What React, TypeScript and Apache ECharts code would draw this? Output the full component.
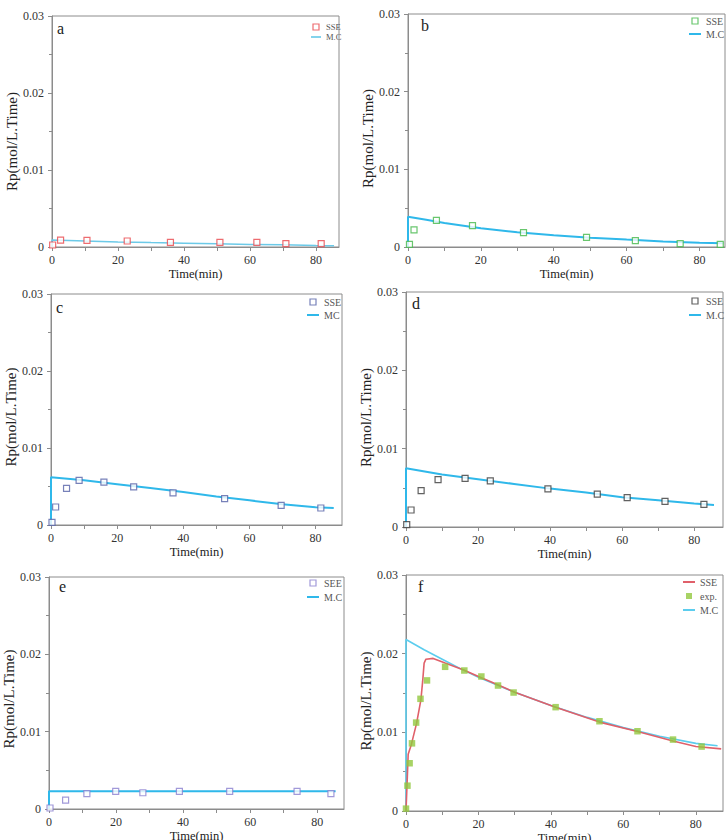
import React, { useEffect, useRef } from "react";
import * as echarts from "echarts";

const FONT = "Liberation Serif";
const AXIS = "#8c8c8c";
const TEXT = "#333";

// Legend glyphs: a short bar for fitted curves, a square for measured points
const LINE_ICON = "path://M0,0L12,0L12,2L0,2Z";
const SQUARE_ICON = "path://M0,0L6,0L6,6L0,6Z";

// Time axis labels and tick positions (min)
const timeLabels = [0, 20, 40, 60, 80];
const timeTicks = [0, 10, 20, 30, 40, 50, 60, 70, 80];

// Panel a
const aSseTime = [0.2, 2.6, 10.6, 22.8, 35.9, 50.9, 62.1, 70.9, 81.6];
const aSseRp = [0.00026, 0.0009, 0.00086, 0.00078, 0.0006, 0.0006, 0.0006, 0.00043, 0.00043];
const aMcTime = [0, 0, 10, 20, 30, 40, 50, 60, 70, 80, 85.5];
const aMcRp = [0, 0.00092, 0.00078, 0.00066, 0.00057, 0.00049, 0.00041, 0.00034, 0.00028, 0.0002, 0.00016];

// Panel b
const bSseTime = [0.4, 1.65, 7.8, 17.7, 31.7, 49.0, 62.4, 74.7, 85.7];
const bSseRp = [0.00034, 0.0022, 0.00343, 0.00275, 0.00185, 0.00124, 0.00082, 0.00043, 0.00034];
const bMcTime = [0, 0, 5, 10, 20, 30, 40, 50, 60, 70, 80, 86.5];
const bMcRp = [0, 0.0039, 0.0035, 0.0031, 0.0024, 0.0019, 0.0015, 0.0012, 0.00095, 0.00072, 0.00055, 0.00048];

// Panel c
const cSseTime = [0.3, 1.4, 4.7, 8.5, 16.0, 25.0, 36.9, 52.5, 69.6, 81.6];
const cSseRp = [0.00035, 0.00234, 0.00476, 0.0058, 0.00558, 0.00494, 0.00416, 0.00342, 0.00255, 0.00221];
const cMcTime = [0, 0, 10, 20, 30, 40, 50, 60, 70, 80, 85.5];
const cMcRp = [0, 0.0062, 0.0058, 0.0053, 0.0048, 0.0043, 0.0037, 0.0032, 0.0027, 0.0023, 0.0022];

// Panel d
const dSseTime = [0.2, 1.4, 4.2, 8.9, 16.4, 23.4, 39.4, 53.1, 61.4, 71.9, 82.7];
const dSseRp = [0.0003, 0.00217, 0.00465, 0.00605, 0.0062, 0.0059, 0.00486, 0.0042, 0.00375, 0.00328, 0.0029];
const dMcTime = [0, 0, 10, 20, 30, 40, 50, 60, 70, 80, 85.5];
const dMcRp = [0, 0.0075, 0.0067, 0.0061, 0.0055, 0.0049, 0.0044, 0.0038, 0.0034, 0.003, 0.0028];

// Panel e
const eSeeTime = [0.3, 4.95, 11.3, 19.9, 28.0, 38.9, 53.9, 74.0, 84.1];
const eSeeRp = [0.00013, 0.00116, 0.002, 0.00228, 0.0021, 0.00228, 0.00228, 0.00228, 0.002];
const eMcTime = [0, 0, 85.5];
const eMcRp = [0, 0.0023, 0.0023];

// Panel f
const fExpTime = [0, 0.4, 1.0, 1.65, 2.8, 4.0, 5.8, 10.8, 16.1, 20.8, 25.4, 29.7, 41.3, 53.4, 63.9, 73.7, 81.6];
const fExpRp = [0.0003, 0.00322, 0.00607, 0.0086, 0.01124, 0.01426, 0.0166, 0.01833, 0.01786, 0.0171, 0.01595, 0.01506, 0.0132, 0.01141, 0.01014, 0.00908, 0.00819];
const fSseTime = [0, 0.3, 0.6, 1.5, 2.9, 4.1, 4.6, 5.0, 5.5, 7.5, 10.8, 16.1, 20, 25, 30, 41.3, 53.4, 63.9, 73.7, 80, 87];
const fSseRp = [0, 0.0035, 0.0072, 0.0085, 0.0111, 0.0141, 0.0165, 0.0188, 0.0193, 0.0194, 0.0188, 0.0179, 0.0171, 0.0161, 0.0151, 0.0132, 0.0113, 0.0101, 0.0089, 0.0082, 0.0079];
const fMcTime = [0, 0, 5, 10, 15, 20, 30, 40, 50, 60, 70, 80, 86];
const fMcRp = [0, 0.0218, 0.0205, 0.0193, 0.0181, 0.017, 0.0151, 0.0134, 0.0119, 0.0106, 0.0095, 0.0086, 0.0083];

type SeriesDef = {
  kind: "line" | "hollow" | "filled";
  name: string;
  x: number[];
  y: number[];
  color: string;
  width?: number;
};

type Panel = {
  key: string;
  grid: { left: number; top: number; width: number; height: number };
  xMax: number;
  label: { x: number; y: number };
  legend: { left: number; top: number; gap: number; fontSize: number; itemWidth: number };
  yNamePad: number;
  order: string[];
  series: SeriesDef[];
};

const CYAN = "#2fb8ea";

const panels: Panel[] = [
  {
    key: "a",
    grid: { left: 52, top: 16, width: 287, height: 231 },
    xMax: 87,
    label: { x: 57, y: 28.7 },
    legend: { left: 311, top: 22, gap: 0, fontSize: 8.5, itemWidth: 10 },
    yNamePad: 20,
    order: ["SSE", "M.C"],
    series: [
      { kind: "line", name: "M.C", x: aMcTime, y: aMcRp, color: "#6ccae8", width: 1.5 },
      { kind: "hollow", name: "SSE", x: aSseTime, y: aSseRp, color: "#e8474c" },
    ],
  },
  {
    key: "b",
    grid: { left: 408, top: 14, width: 317, height: 233 },
    xMax: 87,
    label: { x: 421, y: 25.7 },
    legend: { left: 689, top: 16, gap: 3, fontSize: 10, itemWidth: 12 },
    yNamePad: 16,
    order: ["SSE", "M.C"],
    series: [
      { kind: "line", name: "M.C", x: bMcTime, y: bMcRp, color: CYAN, width: 2 },
      { kind: "hollow", name: "SSE", x: bSseTime, y: bSseRp, color: "#44b84a" },
    ],
  },
  {
    key: "c",
    grid: { left: 51, top: 294, width: 291, height: 231 },
    xMax: 88,
    label: { x: 56, y: 307.7 },
    legend: { left: 307, top: 297, gap: 3, fontSize: 10, itemWidth: 12 },
    yNamePad: 15,
    order: ["SSE", "MC"],
    series: [
      { kind: "line", name: "MC", x: cMcTime, y: cMcRp, color: CYAN, width: 2 },
      { kind: "hollow", name: "SSE", x: cSseTime, y: cSseRp, color: "#5562a8" },
    ],
  },
  {
    key: "d",
    grid: { left: 406, top: 292, width: 317, height: 235 },
    xMax: 88,
    label: { x: 412, y: 303.7 },
    legend: { left: 689, top: 296, gap: 4, fontSize: 10, itemWidth: 12 },
    yNamePad: 16,
    order: ["SSE", "M.C"],
    series: [
      { kind: "line", name: "M.C", x: dMcTime, y: dMcRp, color: CYAN, width: 2 },
      { kind: "hollow", name: "SSE", x: dSseTime, y: dSseRp, color: "#3a3a3a" },
    ],
  },
  {
    key: "e",
    grid: { left: 49, top: 577, width: 295, height: 232 },
    xMax: 88,
    label: { x: 59, y: 586.4 },
    legend: { left: 307, top: 578, gap: 4, fontSize: 10, itemWidth: 12 },
    yNamePad: 12,
    order: ["SEE", "M.C"],
    series: [
      { kind: "line", name: "M.C", x: eMcTime, y: eMcRp, color: CYAN, width: 2 },
      { kind: "hollow", name: "SEE", x: eSeeTime, y: eSeeRp, color: "#8a7fcf" },
    ],
  },
  {
    key: "f",
    grid: { left: 406, top: 575, width: 317, height: 236 },
    xMax: 87.5,
    label: { x: 418, y: 586.7 },
    legend: { left: 683, top: 577, gap: 4, fontSize: 10, itemWidth: 12 },
    yNamePad: 16,
    order: ["SSE", "exp.", "M.C"],
    series: [
      { kind: "line", name: "M.C", x: fMcTime, y: fMcRp, color: "#5ccdee", width: 1.6 },
      { kind: "line", name: "SSE", x: fSseTime, y: fSseRp, color: "#e0606a", width: 1.6 },
      { kind: "filled", name: "exp.", x: fExpTime, y: fExpRp, color: "#92c83e" },
    ],
  },
];

const zip = (xs: number[], ys: number[]) => xs.map((x, i) => [x, ys[i]]);

function buildOption() {
  const grid: any[] = [];
  const xAxis: any[] = [];
  const yAxis: any[] = [];
  const series: any[] = [];
  const legend: any[] = [];
  const graphic: any[] = [];

  panels.forEach((p, i) => {
    grid.push({
      ...p.grid,
      show: true,
      borderColor: AXIS,
      borderWidth: 1,
      backgroundColor: "transparent",
      containLabel: false,
      outerBoundsMode: "none",
    });

    xAxis.push({
      gridIndex: i,
      type: "value",
      min: 0,
      max: p.xMax,
      axisLine: { show: true, onZero: false, lineStyle: { color: AXIS, width: 1 } },
      axisTick: { show: true, length: 4, customValues: timeTicks, lineStyle: { color: AXIS } },
      axisLabel: {
        customValues: timeLabels,
        margin: 7,
        fontSize: 12,
        color: TEXT,
        fontFamily: FONT,
      },
      splitLine: { show: false },
      name: "Time(min)",
      nameLocation: "middle",
      nameGap: 20,
      nameMoveOverlap: false,
      nameTextStyle: { fontSize: 12.5, color: "#222", fontFamily: FONT },
    });

    yAxis.push({
      gridIndex: i,
      type: "value",
      min: 0,
      max: 0.03,
      interval: 0.01,
      axisLine: { show: true, onZero: false, lineStyle: { color: AXIS, width: 1 } },
      axisTick: { show: true, length: 4, lineStyle: { color: AXIS } },
      minorTick: { show: true, splitNumber: 2, length: 3, lineStyle: { color: AXIS } },
      axisLabel: { margin: 8, fontSize: 12, color: TEXT, fontFamily: FONT },
      splitLine: { show: false },
      minorSplitLine: { show: false },
      name: "Rp(mol/L.Time)",
      nameLocation: "middle",
      nameGap: 33,
      nameMoveOverlap: false,
      nameTextStyle: {
        fontSize: 15,
        color: "#222",
        fontFamily: FONT,
        padding: [0, p.yNamePad, 0, 0],
      },
    });

    const kindOf: Record<string, string> = {};
    p.series.forEach((s) => {
      const name = `${s.name}|${p.key}`;
      kindOf[name] = s.kind;
      if (s.kind === "line") {
        series.push({
          type: "line",
          name,
          xAxisIndex: i,
          yAxisIndex: i,
          data: zip(s.x, s.y),
          symbol: "none",
          showSymbol: false,
          lineStyle: { color: s.color, width: s.width },
          itemStyle: { color: s.color },
          z: 2,
          silent: true,
        });
      } else {
        series.push({
          type: "scatter",
          name,
          xAxisIndex: i,
          yAxisIndex: i,
          data: zip(s.x, s.y),
          symbol: "rect",
          symbolSize: s.kind === "hollow" ? 6 : 6.5,
          itemStyle:
            s.kind === "hollow"
              ? { color: "#fff", borderColor: s.color, borderWidth: 1.2 }
              : { color: s.color },
          z: 3,
          silent: true,
        });
      }
    });

    legend.push({
      orient: "vertical",
      left: p.legend.left,
      top: p.legend.top,
      padding: 0,
      itemGap: p.legend.gap,
      itemWidth: p.legend.itemWidth,
      itemHeight: 6,
      symbolKeepAspect: true,
      selectedMode: false,
      data: p.order.map((n) => {
        const name = `${n}|${p.key}`;
        const kind = kindOf[name];
        return {
          name,
          icon: kind === "line" ? LINE_ICON : SQUARE_ICON,
          itemStyle: kind === "hollow" ? { borderWidth: 1.2 } : { borderWidth: 0 },
        };
      }),
      formatter: (n: string) => n.split("|")[0],
      textStyle: {
        fontSize: p.legend.fontSize,
        lineHeight: 10,
        color: "#555",
        fontFamily: FONT,
      },
    });

    graphic.push({
      type: "text",
      x: p.label.x,
      y: p.label.y,
      style: {
        text: p.key,
        fontSize: 16,
        fontFamily: FONT,
        fill: "#222",
        verticalAlign: "middle",
      },
    });
  });

  return {
    animation: false,
    backgroundColor: "#fff",
    grid,
    xAxis,
    yAxis,
    series,
    legend,
    graphic,
  };
}

export default function App() {
  const ref = useRef<HTMLDivElement>(null);
  useEffect(() => {
    if (!ref.current) return;
    const chart = echarts.init(ref.current, null, { renderer: "svg" });
    chart.setOption(buildOption() as any);
    return () => chart.dispose();
  }, []);
  return (
    <div
      ref={ref}
      style={{ position: "absolute", left: 0, top: 0, width: 727, height: 840, background: "#fff" }}
    />
  );
}
